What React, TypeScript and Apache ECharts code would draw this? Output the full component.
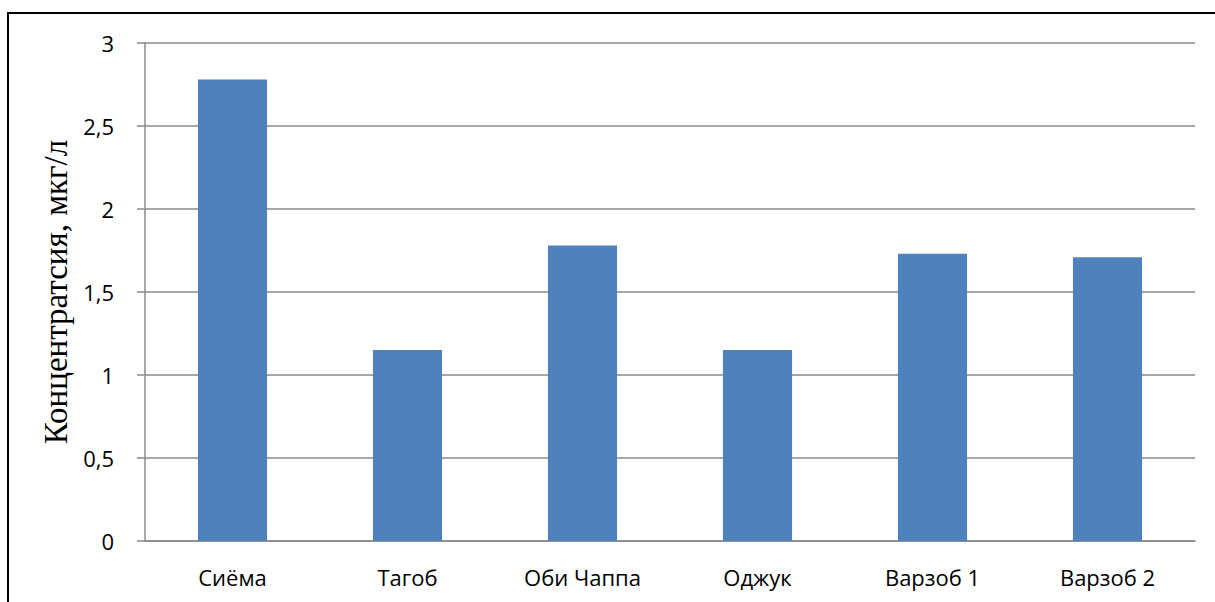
import React, { useEffect, useRef } from "react";
import * as echarts from "echarts";

const categories = ["Сиёма", "Тагоб", "Оби Чаппа", "Оджук", "Варзоб 1", "Варзоб 2"];
const values = [2.78, 1.15, 1.78, 1.15, 1.73, 1.71];
const yTitle = "Концентратсия, мкг/л";

export default function App() {
  const ref = useRef<HTMLDivElement>(null);
  useEffect(() => {
    const chart = echarts.init(ref.current!, null, { renderer: "svg" });
    chart.setOption({
      animation: false,
      backgroundColor: "#ffffff",
      grid: { left: 145, right: 20, top: 43, bottom: 61, containLabel: false },
      xAxis: {
        type: "category",
        data: categories,
        axisLine: { show: true, lineStyle: { color: "#8a8a8a", width: 1.5 } },
        axisTick: { show: false },
        axisLabel: { color: "#000", fontFamily: "Open Sans", fontSize: 22, margin: 25 },
      },
      yAxis: {
        type: "value",
        min: 0,
        max: 3,
        interval: 0.5,
        name: yTitle,
        nameLocation: "middle",
        nameGap: 63,
        nameTextStyle: { fontFamily: "Liberation Serif", fontSize: 33, color: "#000" },
        axisLine: { show: true, lineStyle: { color: "#8a8a8a", width: 1.5 } },
        axisTick: { show: true, inside: false, length: 8, lineStyle: { color: "#8a8a8a", width: 1.5 } },
        splitLine: { show: true, lineStyle: { color: "#8a8a8a", width: 1.5 } },
        axisLabel: {
          color: "#000",
          fontFamily: "Open Sans",
          fontSize: 22,
          margin: 31,
          formatter: (v: number) => String(v).replace(".", ","),
        },
      },
      series: [
        {
          type: "bar",
          data: values,
          barWidth: "39.5%",
          itemStyle: { color: "#4F81BD" },
        },
      ],
      graphic: [
        { type: "line", shape: { x1: 7, y1: 13, x2: 1215, y2: 13 }, style: { stroke: "#000", lineWidth: 2 } },
        { type: "line", shape: { x1: 8, y1: 12, x2: 8, y2: 602 }, style: { stroke: "#000", lineWidth: 2 } },
      ],
    });
    return () => chart.dispose();
  }, []);
  return (
    <div
      ref={ref}
      style={{ position: "absolute", left: 0, top: 0, width: 1215, height: 602 }}
    />
  );
}
